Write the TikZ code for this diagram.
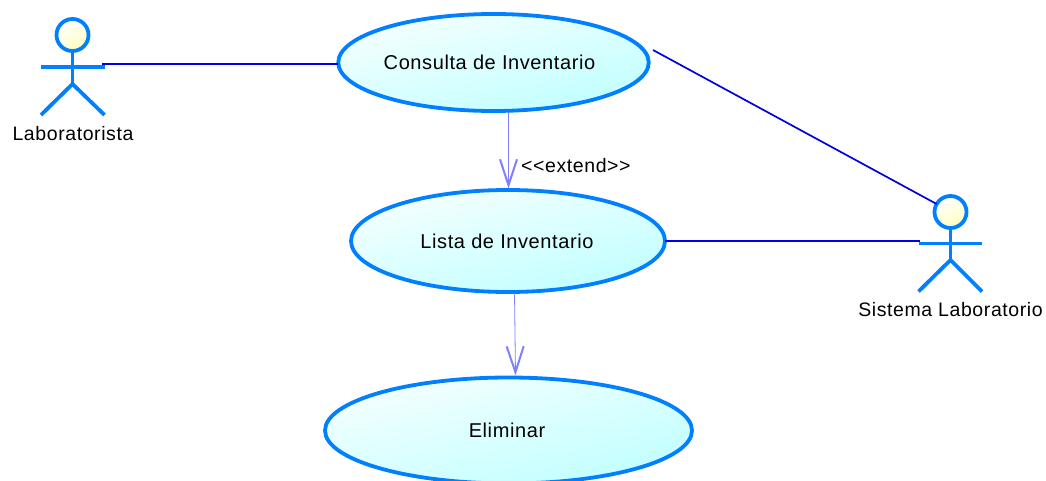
\documentclass[tikz,border=0pt]{standalone}
\usepackage{fontspec}
\setmainfont{Liberation Sans}[LetterSpace=3]
\usetikzlibrary{shapes.geometric,arrows.meta}
\definecolor{umlblue}{RGB}{0,128,255}
\definecolor{linkblue}{RGB}{0,0,225}
\definecolor{extendblue}{RGB}{128,128,255}
\definecolor{usecasewhite}{RGB}{245,255,255}
\definecolor{usecasecyan}{RGB}{192,255,255}
\definecolor{headyellow}{RGB}{255,255,190}
\tikzset{
  usecase/.style={ellipse,draw=umlblue,line width=3.8pt,inner sep=0pt,outer sep=0pt,shading=axis,top color=usecasewhite,bottom color=usecasecyan,shading angle=15,font=\fontsize{20}{24}\selectfont},
  actorline/.style={draw=umlblue,line width=3.8pt},
  actorhead/.style={circle,draw=umlblue,line width=3.8pt,minimum size=32pt,inner sep=0pt,outer sep=0pt,shading=axis,top color=white,bottom color=headyellow,shading angle=30},
  label/.style={font=\fontsize{19.5}{23}\selectfont,inner sep=0pt},
  assoc/.style={draw=linkblue,line width=1.7pt},
  depend/.style={draw=extendblue,line width=0.8pt,-{Straight Barb[length=26pt,width=17pt,line width=2pt]}}
}
\begin{document}
\begin{tikzpicture}[x=1pt,y=-1pt]
            \useasboundingbox (0,0) rectangle (1046,481);
            % Use cases
            \begin{scope}
            \clip (0,13) rectangle (1046,481);
            \node[usecase,minimum width=309pt,minimum height=97pt] (consulta) at (493.5,62.5) {Consulta de Inventario\kern8pt};
            \end{scope}
            \node[usecase,minimum width=314pt,minimum height=102pt] (lista) at (508,241) {Lista de Inventario\kern2pt};
            \node[usecase,minimum width=367pt,minimum height=106pt] (eliminar) at (508.5,430.5) {Eliminar\kern3pt};
            % Left actor
            \node[actorhead] (head1) at (72.5,35) {};
            \coordinate (hip1) at (72.5,84);
            \coordinate (armL1) at (41,67);
            \coordinate (armR1) at (104.5,67);
            \coordinate (footL1) at (41,115);
            \coordinate (footR1) at (104.5,115);
            \draw[actorline] (head1.south) -- (hip1);
            \draw[actorline] (armL1) -- (armR1);
            \draw[actorline] (footL1) -- (hip1) -- (footR1);
            \node[label] (name1) at (73,133.5) {Laboratorista};
            % Right actor
            \node[actorhead] (head2) at (950.5,212) {};
            \coordinate (hip2) at (950.5,260);
            \coordinate (armL2) at (918.5,243.5);
            \coordinate (armR2) at (982,243.5);
            \coordinate (footL2) at (918.5,291.5);
            \coordinate (footR2) at (982,291.5);
            \draw[actorline] (head2.south) -- (hip2);
            \draw[actorline] (armL2) -- (armR2);
            \draw[actorline] (footL2) -- (hip2) -- (footR2);
            \node[label] (name2) at (950.5,310) {Sistema Laboratorio};
            % Associations
            \coordinate (link1) at (102,64);
            \coordinate (link2) at (920,241);
            \coordinate (link3) at (653,50);
            \draw[assoc] (link1) -- (consulta.west |- link1);
            \draw[assoc] (lista.east) -- (link2);
            \draw[assoc] (link3) -- (head2.150);
            % Dependencies
            \coordinate (from1) at (508.5,112);
            \coordinate (from2) at (514.5,293);
            \coordinate (to1) at (508.5,188.5);
            \coordinate (to2) at (515.5,375.5);
            \draw[depend] (from1) -- (to1);
            \draw[depend] (from2) -- (to2);
            \node[label,anchor=west] (extend) at (521,165.5) {<{}<extend>{}>};
        \end{tikzpicture}
\end{document}
